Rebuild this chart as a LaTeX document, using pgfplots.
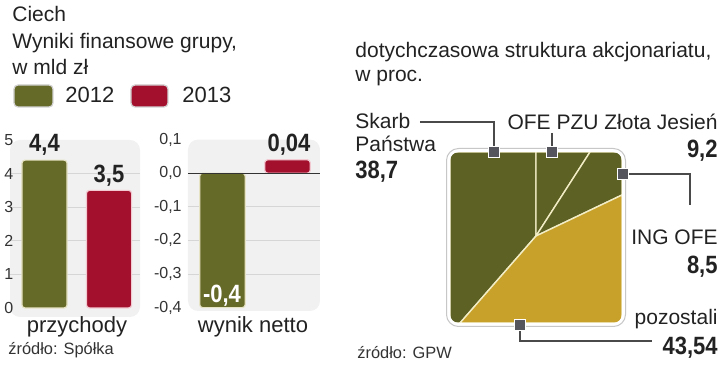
\documentclass[border=0pt]{standalone}
\usepackage{pgfplots}
\pgfplotsset{compat=1.18}
\usepackage{fontspec}
\setmainfont{Liberation Sans}
\newfontfamily\numfont[FakeStretch=0.88]{Liberation Sans}
\definecolor{cA}{HTML}{666A28}
\definecolor{cAl}{HTML}{E6E3C4}
\definecolor{cB}{HTML}{A3102E}
\definecolor{cBl}{HTML}{F2C9D0}
\definecolor{pieO}{HTML}{5E6124}
\definecolor{pieG}{HTML}{C8A12A}
\definecolor{pieS}{HTML}{F3EDC6}
\definecolor{bgc}{HTML}{F1F1F1}
\definecolor{gridc}{HTML}{D6D6D6}
\definecolor{tickc}{HTML}{333333}
\definecolor{txt}{HTML}{222222}
\definecolor{markc}{HTML}{55555E}
\definecolor{linec}{HTML}{4A4A4A}
\newcommand{\tx}{\fontsize{10.5}{12}\selectfont}
\newcommand{\bignum}{\numfont\bfseries\fontsize{12.5}{14}\selectfont}
\begin{document}
\begin{tikzpicture}
\path[use as bounding box] (0,0) rectangle (360pt,188pt);
\pgfplotsset{
  smallbar/.style={
    scale only axis, anchor=south west,
    axis line style={draw=none}, xtick=\empty, tick style={draw=none},
    ymajorgrids, grid style={draw=gridc, line width=0.5pt},
    extra y tick style={grid=none},
    yticklabel style={font=\fontsize{8}{9}\selectfont, text=tickc, inner sep=0pt},
    axis background/.style={fill=bgc, rounded corners=5pt},
    clip=false,
  },
  bA/.style={ybar, bar width=0.7, bar shift=0pt, fill=cA, draw=cAl, line width=0.6pt, rounded corners=1.5pt, mark=none},
  bB/.style={ybar, bar width=0.7, bar shift=0pt, fill=cB, draw=cBl, line width=0.6pt, rounded corners=1.5pt, mark=none},
}
% ---- chart 1: przychody
\begin{axis}[smallbar, at={(5pt,29.5pt)}, width=65pt, height=88.5pt,
  xmin=-0.535, xmax=1.48, ymin=-0.27, ymax=5,
  ytick={1,2,3,4}, yticklabels={1,2,3,4},
  extra y ticks={0,5}, extra y tick labels={0,5},
  yticklabel style={xshift=1.8pt}]
\addplot[bA] coordinates {(0,4.4)};
\addplot[bB] coordinates {(1,3.5)};
\end{axis}
% ---- chart 2: wynik netto
\begin{axis}[smallbar, at={(94pt,32.5pt)}, width=66pt, height=85.7pt,
  xmin=-0.53, xmax=1.5, ymin=-0.41, ymax=0.1,
  ytick={-0.3,-0.2,-0.1}, yticklabels={{-0,3},{-0,2},{-0,1}},
  extra y ticks={-0.4,0,0.1}, extra y tick labels={{-0,4},{0,0},{0,1}},
  yticklabel style={xshift=-3pt}]
\addplot[bA] coordinates {(0,-0.4)};
\addplot[bB] coordinates {(1,0.04)};
\draw[black!80, line width=0.6pt] (axis cs:-0.53,0) -- (axis cs:1.5,0);
\end{axis}
% ---- square "pie"
\begin{axis}[at={(225pt,26.5pt)}, anchor=south west, scale only axis,
  width=86pt, height=85.5pt, xmin=0, xmax=172, ymin=0, ymax=171,
  hide axis, clip=false]
\addplot[fill=pieO, draw=pieS, line width=0.7pt, mark=none] coordinates {(86,87) (86,171) (0,171) (0,0) (10,0)} -- cycle;
\addplot[fill=pieO, draw=pieS, line width=0.7pt, mark=none] coordinates {(86,87) (140,171) (86,171)} -- cycle;
\addplot[fill=pieO, draw=pieS, line width=0.7pt, mark=none] coordinates {(86,87) (172,128) (172,171) (140,171)} -- cycle;
\addplot[fill=pieG, draw=pieS, line width=0.7pt, mark=none] coordinates {(86,87) (10,0) (172,0) (172,128)} -- cycle;
\fill[white, even odd rule] (axis cs:-5,-5) rectangle (axis cs:177,176) [rounded corners=4pt] (axis cs:0,0) rectangle (axis cs:172,171);
\draw[white, line width=1.5pt, rounded corners=5pt] (axis cs:-1.5,-1.5) rectangle (axis cs:173.5,172.5);
\draw[black!22, line width=0.5pt, rounded corners=6pt] (axis cs:-3.5,-3.5) rectangle (axis cs:175.5,174.5);
\end{axis}
% ---- annotations in pixel coordinates
\begin{scope}[x=0.5pt, y=-0.5pt, shift={(0,188pt)}]
\tx
\node[anchor=base west, inner sep=0, text=txt] at (12,22) {Ciech};
\node[anchor=base west, inner sep=0, text=txt] at (12,48) {Wyniki finansowe grupy,};
\node[anchor=base west, inner sep=0, text=txt] at (12,75) {w mld zł};
\draw[fill=cA, draw=black!18, line width=0.6pt, rounded corners=2pt] (14,85) rectangle (53,107);
\draw[fill=cB, draw=black!18, line width=0.6pt, rounded corners=2pt] (131,85) rectangle (168,107);
\node[anchor=base west, inner sep=0, text=txt, font=\fontsize{11}{12}\selectfont] at (65,103) {2012};
\node[anchor=base west, inner sep=0, text=txt, font=\fontsize{11}{12}\selectfont] at (182,103) {2013};
\node[anchor=base west, inner sep=0, text=txt] at (355,57) {dotychczasowa struktura akcjonariatu,};
\node[anchor=base west, inner sep=0, text=txt] at (355,82) {w proc.};
% bar values
\node[anchor=base, inner sep=0, text=txt, font=\bignum] at (44.5,152) {4,4};
\node[anchor=base, inner sep=0, text=txt, font=\bignum] at (109,183) {3,5};
\node[anchor=base, inner sep=0, text=txt, font=\bignum] at (289,152) {0,04};
\node[anchor=base, inner sep=0, text=white, font=\bignum] at (222,303) {-0,4};
\node[anchor=base, inner sep=0, text=txt, font=\fontsize{11}{12}\selectfont] at (77,333) {przychody};
\node[anchor=base, inner sep=0, text=txt, font=\fontsize{11}{12}\selectfont] at (253,333) {wynik netto};
\node[anchor=base west, inner sep=0, text=tickc, font=\fontsize{8.2}{9}\selectfont] at (8,355) {źródło: Spółka};
\node[anchor=base west, inner sep=0, text=tickc, font=\fontsize{8.2}{9}\selectfont] at (357,358) {źródło: GPW};
% callouts
\draw[linec, line width=0.6pt] (420,122) -- (494,122) -- (494,147);
\draw[linec, line width=0.6pt] (552,133) -- (552,147);
\draw[linec, line width=0.6pt] (629,174) -- (690,174) -- (690,205);
\draw[linec, line width=0.6pt] (520,331) -- (520,341) -- (652,341);
\filldraw[fill=markc, draw=white, line width=0.75pt] (488.5,146.5) rectangle (499.5,157.5);
\filldraw[fill=markc, draw=white, line width=0.75pt] (546.5,146.5) rectangle (557.5,157.5);
\filldraw[fill=markc, draw=white, line width=0.75pt] (617.5,168.5) rectangle (628.5,179.5);
\filldraw[fill=markc, draw=white, line width=0.75pt] (514.5,319.5) rectangle (525.5,330.5);
\node[anchor=base west, inner sep=0, text=txt] at (355,128) {Skarb};
\node[anchor=base west, inner sep=0, text=txt] at (355,152) {Państwa};
\node[anchor=base west, inner sep=0, text=txt, font=\bignum] at (355,178) {38,7};
\node[anchor=base east, inner sep=0, text=txt] at (718,129) {OFE PZU Złota Jesień};
\node[anchor=base east, inner sep=0, text=txt, font=\bignum] at (718,157) {9,2};
\node[anchor=base east, inner sep=0, text=txt] at (718,245) {ING OFE};
\node[anchor=base east, inner sep=0, text=txt, font=\bignum] at (718,273) {8,5};
\node[anchor=base east, inner sep=0, text=txt] at (718,325) {pozostali};
\node[anchor=base east, inner sep=0, text=txt, font=\bignum] at (718,355) {43,54};
\end{scope}
\end{tikzpicture}
\end{document}
